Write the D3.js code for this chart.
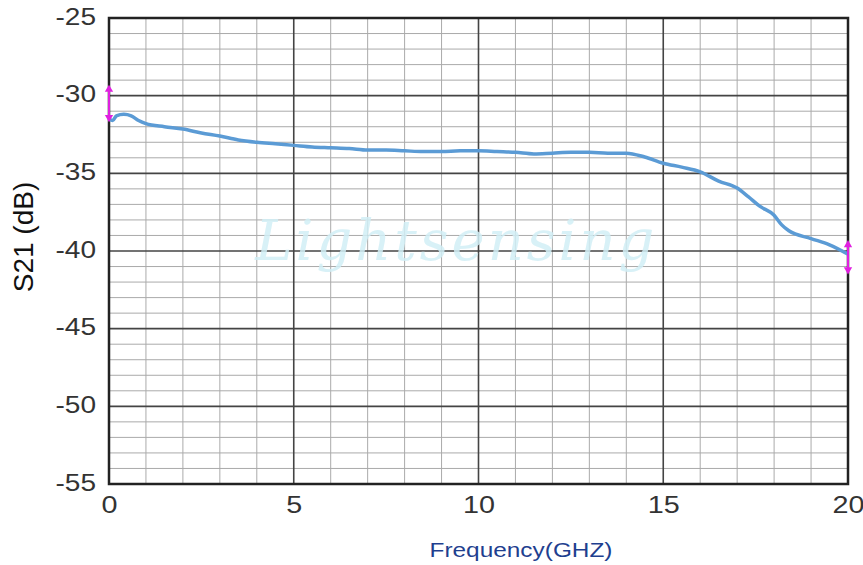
<!DOCTYPE html>
<html>
<head>
<meta charset="utf-8">
<script src="https://cdn.jsdelivr.net/npm/d3@7"></script>
<style>
  body { margin: 0; background: #fff; }
  svg { display: block; font-family: "Liberation Sans", Arial, sans-serif; }
</style>
</head>
<body>
<div id="chart"></div>
<script>
var freq = [0, 0.1, 0.2, 0.4, 0.6, 0.8, 1, 1.5, 2, 2.5, 3, 3.5, 4, 4.5, 5, 5.5, 6, 6.5, 7, 7.5, 8, 8.5, 9, 9.5, 10,
  10.5, 11, 11.5, 12, 12.5, 13, 13.5, 14, 14.5, 15, 15.5, 16, 16.5, 17, 17.3, 17.6, 18, 18.2, 18.4, 19, 19.5, 20];
var s21 = [-31.5, -31.6, -31.3, -31.2, -31.3, -31.6, -31.8, -32.0, -32.15, -32.4, -32.6, -32.85, -33.0, -33.1, -33.2, -33.3, -33.35, -33.4, -33.5, -33.5, -33.55, -33.6, -33.6, -33.55, -33.55,
  -33.6, -33.65, -33.75, -33.7, -33.65, -33.65, -33.7, -33.7, -33.95, -34.35, -34.6, -34.9, -35.5, -35.95, -36.5, -37.1, -37.7, -38.3, -38.7, -39.2, -39.6, -40.2];

var xTicks = [0, 5, 10, 15, 20];
var yTicks = [-25, -30, -35, -40, -45, -50, -55];

// magenta markers at the two ends of the trace
var markerX = [0, 0, 20, 20];
var markerY = [-29.6, -31.4, -39.6, -41.2];
var markerDir = ["up", "down", "up", "down"];

const margin = { top: 18, right: 15, bottom: 81, left: 109 },
  width = 863 - margin.left - margin.right,
  height = 565 - margin.top - margin.bottom;

const svg = d3
  .select("#chart")
  .append("svg")
  .attr("width", 863)
  .attr("height", 565);

const g = svg.append("g").attr("transform", `translate(${margin.left}, ${margin.top})`);

const x = d3.scaleLinear().domain([0, 20]).range([0, width]);
const y = d3.scaleLinear().domain([-55, -25]).range([height, 0]);

// minor grid, every 1 GHz and 1 dB
g.append("g")
  .selectAll("line")
  .data(d3.range(1, 20).filter(function (d) { return d % 5 != 0; }))
  .join("line")
  .attr("x1", function (d) { return x(d); })
  .attr("x2", function (d) { return x(d); })
  .attr("y1", 0)
  .attr("y2", height)
  .attr("stroke", "#aaa")
  .attr("stroke-width", 1);

g.append("g")
  .selectAll("line")
  .data(d3.range(-54, -25).filter(function (d) { return d % 5 != 0; }))
  .join("line")
  .attr("x1", 0)
  .attr("x2", width)
  .attr("y1", function (d) { return y(d); })
  .attr("y2", function (d) { return y(d); })
  .attr("stroke", "#aaa")
  .attr("stroke-width", 1);

// major grid
g.append("g")
  .selectAll("line")
  .data([5, 10, 15])
  .join("line")
  .attr("x1", function (d) { return x(d); })
  .attr("x2", function (d) { return x(d); })
  .attr("y1", 0)
  .attr("y2", height)
  .attr("stroke", "#444")
  .attr("stroke-width", 1.6);

g.append("g")
  .selectAll("line")
  .data([-30, -35, -40, -45, -50])
  .join("line")
  .attr("x1", 0)
  .attr("x2", width)
  .attr("y1", function (d) { return y(d); })
  .attr("y2", function (d) { return y(d); })
  .attr("stroke", "#444")
  .attr("stroke-width", 1.6);

// watermark
g.append("text")
  .attr("x", x(9.4))
  .attr("y", y(-40.6))
  .attr("text-anchor", "middle")
  .attr("font-family", "'DejaVu Serif', 'Liberation Serif', serif")
  .attr("font-style", "italic")
  .attr("font-size", "56px")
  .attr("letter-spacing", "3px")
  .attr("fill", "#d2eff6")
  .attr("opacity", 0.85)
  .text("Lightsensing");

// frame
g.append("rect")
  .attr("x", 0)
  .attr("y", 0)
  .attr("width", width)
  .attr("height", height)
  .attr("fill", "none")
  .attr("stroke", "#222")
  .attr("stroke-width", 2.5);

// axes tick labels (plain hyphen, text a bit stretched like the picture)
const fmt = function (d) { return String(d); };

const xAxis = g.append("g")
  .attr("transform", `translate(0, ${height})`)
  .call(d3.axisBottom(x).tickValues(xTicks).tickFormat(fmt).tickSize(0).tickPadding(12));
xAxis.select(".domain").remove();
xAxis.selectAll("text")
  .attr("font-size", "23px")
  .attr("font-family", "'Liberation Sans', Arial, sans-serif")
  .attr("fill", "#333")
  .attr("y", 0)
  .attr("dy", "0")
  .attr("transform", "translate(0, 29) scale(1.25, 1)");

const yAxis = g.append("g")
  .call(d3.axisLeft(y).tickValues(yTicks).tickFormat(fmt).tickSize(0).tickPadding(12));
yAxis.select(".domain").remove();
yAxis.selectAll("text")
  .attr("font-size", "23px")
  .attr("font-family", "'Liberation Sans', Arial, sans-serif")
  .attr("fill", "#333")
  .attr("x", 0)
  .attr("dy", "0")
  .attr("transform", "translate(-13, 6) scale(1.22, 1)");

// trace
const line = d3.line()
  .x(function (d, i) { return x(freq[i]); })
  .y(function (d) { return y(d); })
  .curve(d3.curveMonotoneX);

g.append("path")
  .datum(s21)
  .attr("d", line)
  .attr("fill", "none")
  .attr("stroke", "#5b9bd5")
  .attr("stroke-width", 3.5)
  .attr("stroke-linejoin", "round");

// magenta markers
g.append("line")
  .attr("x1", x(0)).attr("x2", x(0))
  .attr("y1", y(markerY[0])).attr("y2", y(markerY[1]))
  .attr("stroke", "#e020e0").attr("stroke-width", 2);
g.append("line")
  .attr("x1", x(20)).attr("x2", x(20))
  .attr("y1", y(markerY[2])).attr("y2", y(markerY[3]))
  .attr("stroke", "#e020e0").attr("stroke-width", 2);

g.append("g")
  .selectAll("path")
  .data(markerX)
  .join("path")
  .attr("transform", function (d, i) {
    return `translate(${x(d)}, ${y(markerY[i])}) rotate(${markerDir[i] == "up" ? 0 : 180})`;
  })
  .attr("d", d3.symbol().type(d3.symbolTriangle).size(30))
  .attr("fill", "#e020e0");

// axis titles
svg.append("text")
  .attr("transform", "translate(33, 237) rotate(-90)")
  .attr("text-anchor", "middle")
  .attr("font-size", "28px")
  .attr("fill", "#111")
  .text("S21 (dB)");

svg.append("text")
  .attr("transform", "translate(521, 557) scale(1.22, 1)")
  .attr("text-anchor", "middle")
  .attr("font-size", "20px")
  .attr("fill", "#1f3f8f")
  .text("Frequency(GHZ)");
</script>
</body>
</html>
